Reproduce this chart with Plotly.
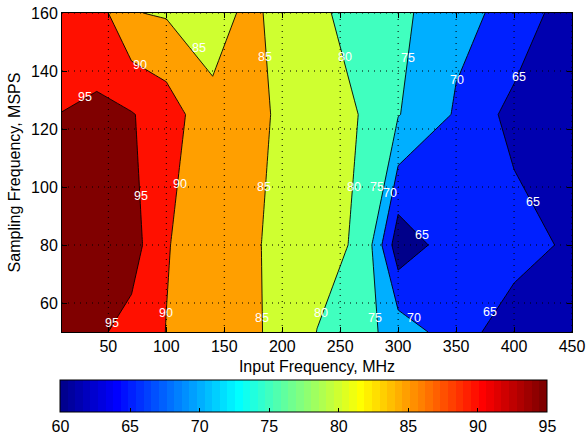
import math
import numpy as np
import plotly.graph_objects as go

# ---------------- data ----------------
input_freq_mhz = [10, 40, 70, 100, 140, 170, 200, 230, 270, 300, 350, 400, 450]
sampling_freq_msps = [50, 80, 125, 160]
sfdr_at_50msps = [96.5, 95.82, 93.33, 89.9, 88.0, 86.15, 83.5, 79.94, 76.65, 72.75, 67.42, 62.0, 61.0]
sfdr_at_80msps = [97.5, 97.5, 97.18, 90.3, 87.0, 85.8, 83.8, 81.52, 79.25, 61.85, 67.9, 67.33, 64.0]
sfdr_at_125msps = [95.07, 95.77, 95.3, 92.6, 86.33, 85.7, 84.65, 83.2, 79.6, 75.24, 69.5, 63.3, 61.0]
sfdr_at_160msps = [92.5, 92.39, 85.23, 84.54, 82.8, 86.0, 83.78, 80.8, 78.2, 76.43, 71.1, 68.9, 61.5]

contour_levels = [65, 70, 75, 80, 85, 90, 95]
x_ticks = [50, 100, 150, 200, 250, 300, 350, 400, 450]
y_ticks = [60, 80, 100, 120, 140, 160]
cbar_ticks = [60, 65, 70, 75, 80, 85, 90, 95]
clim = [60, 95]

# contour-label spots: (level, sampling frequency row, which crossing from the left)
label_spots = [
    (95, 131, 0), (95, 97, 0), (95, 53, 0),
    (90, 142, 0), (90, 101, 0), (90, 56.6, 0),
    (85, 148, 0), (85, 145, 2), (85, 100, 0), (85, 55, 0),
    (80, 145, 0), (80, 100, 0), (80, 56.6, 0),
    (75, 144.5, 0), (75, 100, 0), (75, 55, 0),
    (70, 137, 0), (70, 98, 0), (70, 55, 0),
    (65, 138, 0), (65, 83.3, 1), (65, 95, 0), (65, 57, 0),
]

z = np.array([sfdr_at_50msps, sfdr_at_80msps, sfdr_at_125msps, sfdr_at_160msps])
xs = np.array(input_freq_mhz, dtype=float)
ys = np.array(sampling_freq_msps, dtype=float)


def crossings(level, y0):
    j = int(np.clip(np.searchsorted(ys, y0) - 1, 0, len(ys) - 2))
    t = (y0 - ys[j]) / (ys[j + 1] - ys[j])
    zr = z[j] * (1 - t) + z[j + 1] * t
    out = []
    for i in range(len(xs) - 1):
        a, b = zr[i] - level, zr[i + 1] - level
        if a * b < 0:
            out.append(xs[i] + (level - zr[i]) / (zr[i + 1] - zr[i]) * (xs[i + 1] - xs[i]))
    return out

# ---------------- colours ----------------
def jet(n=64):
    m = n // 4
    u = [k / m for k in range(1, m + 1)] + [1.0] * (m - 1) + [k / m for k in range(m, 0, -1)]
    g0 = math.ceil(m / 2) - (1 if n % 4 == 1 else 0)
    r = [0.0] * n; g = [0.0] * n; b = [0.0] * n
    for i, val in enumerate(u):
        gi = g0 + i
        ri = gi + m
        bi = gi - m
        if 0 <= gi < n: g[gi] = val
        if 0 <= ri < n: r[ri] = val
        if 0 <= bi < n: b[bi] = val
    return [f"rgb({round(255*r[i])},{round(255*g[i])},{round(255*b[i])})" for i in range(n)]

jet64 = jet(64)
jet_scale = []
for k, c in enumerate(jet64):
    jet_scale.append([k / 64, c])
    jet_scale.append([(k + 1) / 64, c])

band_colors = ['rgb(0,0,175)', 'rgb(0,32,255)', 'rgb(0,175,255)', 'rgb(64,255,191)',
               'rgb(207,255,48)', 'rgb(255,159,0)', 'rgb(255,16,0)', 'rgb(128,0,0)']
nb = len(band_colors) - 1
band_scale = []
for k, c in enumerate(band_colors):
    lo = max(0.0, (k - 0.5) / nb)
    hi = min(1.0, (k + 0.5) / nb)
    band_scale.append([lo, c])
    band_scale.append([hi, c])

FONT = "Liberation Sans, Arial, Helvetica, sans-serif"

fig = go.Figure()

# colour bar carrier (fully covered by the filled contours)
fig.add_trace(go.Heatmap(
    x=input_freq_mhz, y=sampling_freq_msps, z=z,
    zmin=clim[0], zmax=clim[1], colorscale=jet_scale, hoverinfo="skip",
    showscale=True,
    colorbar=dict(
        orientation="h", x=0.4745, xanchor="center", y=-0.1505, yanchor="top",
        len=487, lenmode="pixels", thickness=32, thicknessmode="pixels",
        xpad=0, ypad=0, outlinecolor="black", outlinewidth=1,
        tickvals=cbar_ticks, ticks="inside", ticklen=4, tickcolor="black",
        tickfont=dict(family=FONT, size=16, color="black"),
    ),
))

# filled bands
fig.add_trace(go.Contour(
    x=input_freq_mhz, y=sampling_freq_msps, z=z,
    autocontour=False,
    contours=dict(start=contour_levels[0], end=contour_levels[-1], size=5, coloring="fill", showlines=False),
    colorscale=band_scale, showscale=False, line=dict(width=0, smoothing=0), hoverinfo="skip",
))

# deeper local minimum (darker fill), from the data cells around it
sub = -z[0:3, 8:11]
fig.add_trace(go.Contour(
    x=input_freq_mhz[8:11], y=sampling_freq_msps[0:3], z=sub,
    autocontour=False,
    contours=dict(start=-contour_levels[0], end=-contour_levels[0], size=5, coloring="fill", showlines=False),
    colorscale=[[0, "rgba(0,0,0,0)"], [0.5, "rgba(0,0,0,0)"], [0.5, "rgb(0,0,138)"], [1, "rgb(0,0,138)"]],
    showscale=False, line=dict(width=0, smoothing=0), hoverinfo="skip",
))

# contour lines
fig.add_trace(go.Contour(
    x=input_freq_mhz, y=sampling_freq_msps, z=z,
    autocontour=False,
    contours=dict(start=contour_levels[0], end=contour_levels[-1], size=5, coloring="none", showlabels=False),
    line=dict(color="black", width=0.9, smoothing=0), showscale=False, hoverinfo="skip",
))

annotations = []
for level, yrow, idx in label_spots:
    cr = crossings(level, yrow)
    if idx < len(cr):
        annotations.append(dict(x=cr[idx], y=yrow, xref="x", yref="y", text=str(level),
                                showarrow=False, xanchor="center", yanchor="middle",
                                font=dict(family=FONT, size=12.5, color="white")))

shapes = []
for t in x_ticks:
    shapes.append(dict(type="line", xref="x", yref="paper", x0=t, x1=t, y0=0, y1=1,
                       line=dict(color="black", width=1, dash="1px,5px"), layer="above"))
for t in y_ticks:
    shapes.append(dict(type="line", xref="paper", yref="y", x0=0, x1=1, y0=t, y1=t,
                       line=dict(color="black", width=1, dash="1px,5px"), layer="above"))

axis_common = dict(showline=True, linecolor="black", linewidth=1, mirror="ticks",
                   ticks="inside", ticklen=5, tickcolor="black", showgrid=False, zeroline=False,
                   layer="above traces", tickfont=dict(family=FONT, size=16, color="black"))

fig.update_layout(
    width=587, height=438,
    margin=dict(l=62, r=15, t=13, b=106, autoexpand=False),
    paper_bgcolor="white", plot_bgcolor="white",
    font=dict(family=FONT, size=16, color="black"),
    showlegend=False,
    shapes=shapes,
    annotations=annotations,
    xaxis=dict(range=[10, 450], tickvals=x_ticks, automargin=False, **axis_common,
               title=dict(text="Input Frequency, MHz", font=dict(family=FONT, size=16), standoff=6)),
    yaxis=dict(range=[50, 160], tickvals=y_ticks, automargin=False, **axis_common,
               title=dict(text="Sampling Frequency, MSPS", font=dict(family=FONT, size=16), standoff=6)),
)

fig.write_html("out.html", config={"displayModeBar": False},
               post_script="document.body.style.margin='0';document.body.style.padding='0';")
